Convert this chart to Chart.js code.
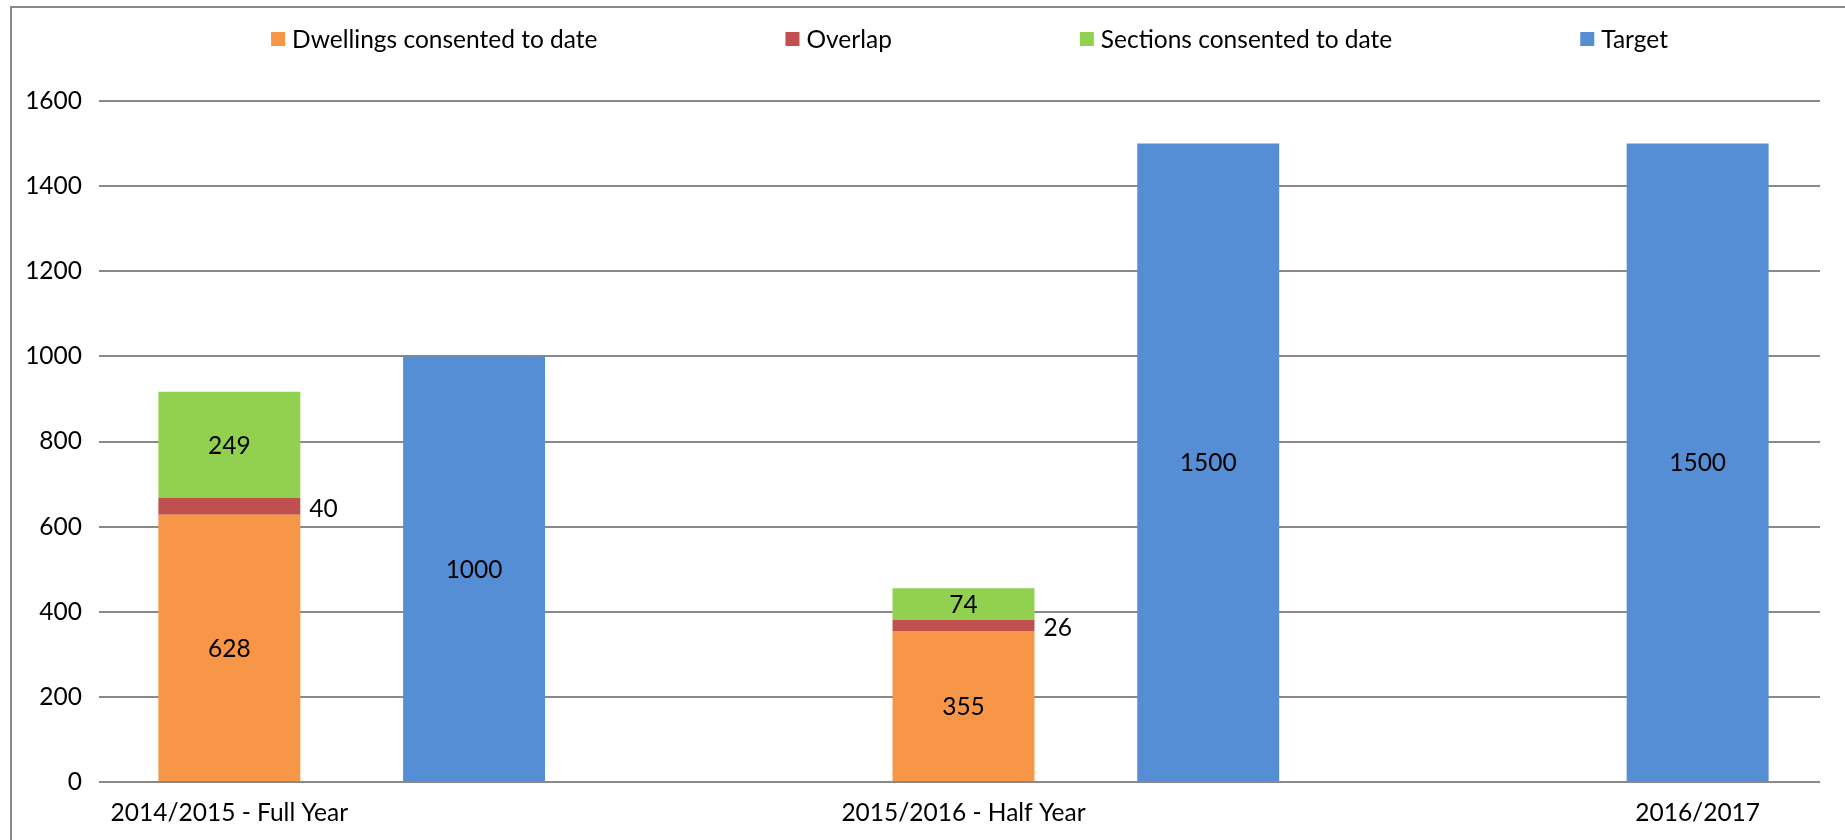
<!DOCTYPE html>
<html>
<head>
<meta charset="utf-8">
<title>Housing consents vs target</title>
<script src="https://cdn.jsdelivr.net/npm/chart.js@4"></script>
<style>
  html, body { margin: 0; padding: 0; background: #fff; }
  #wrap { width: 1845px; height: 840px; position: relative; }
</style>
</head>
<body>
<div id="wrap"><canvas id="chart"></canvas></div>
<script>
// periods (blank slots keep the target bar beside each consent stack)
const periods = ['2014/2015 - Full Year', '', '', '2015/2016 - Half Year', '', '', '2016/2017'];

const dwellings = [628, null, null, 355, null, null, null];
const overlap   = [40,  null, null, 26,  null, null, null];
const sections  = [249, null, null, 74,  null, null, null];
const target    = [null, 1000, null, null, 1500, null, 1500];

const yTicks = [0, 200, 400, 600, 800, 1000, 1200, 1400, 1600];

const FONT = 'Lato, "Noto Sans", sans-serif';
const FONT_SIZE = 24.5;
const GRID = '#898989';

// outer frame of the chart object
const framePlugin = {
  id: 'frame',
  beforeDraw(chart) {
    const ctx = chart.ctx;
    ctx.save();
    ctx.fillStyle = '#fff';
    ctx.fillRect(0, 0, chart.width, chart.height);
    ctx.strokeStyle = GRID;
    ctx.lineWidth = 2;
    ctx.strokeRect(11, 7, chart.width + 20, chart.height + 20);
    ctx.restore();
  }
};

// spread-out legend across the top
const legendPlugin = {
  id: 'wideLegend',
  afterDraw(chart) {
    const ctx = chart.ctx;
    const box = 14, gap = 7, spacing = 188;
    ctx.save();
    ctx.font = FONT_SIZE + 'px ' + FONT;
    const items = chart.data.datasets.map(ds => ({
      text: ds.label, color: ds.backgroundColor,
      w: box + gap + ctx.measureText(ds.label).width
    }));
    const total = items.reduce((s, it) => s + it.w, 0) + spacing * (items.length - 1);
    const area = chart.chartArea;
    let x = (area.left + area.right) / 2 + 6 - total / 2;
    const y = 39;
    ctx.textBaseline = 'middle';
    ctx.textAlign = 'left';
    items.forEach(it => {
      ctx.fillStyle = it.color;
      ctx.fillRect(x, y - box / 2, box, box);
      ctx.fillStyle = '#000';
      ctx.fillText(it.text, x + box + gap, y + 1);
      x += it.w + spacing;
    });
    ctx.restore();
  }
};

// value labels on the bars
const valueLabels = {
  id: 'valueLabels',
  afterDatasetsDraw(chart) {
    const ctx = chart.ctx;
    ctx.save();
    ctx.font = FONT_SIZE + 'px ' + FONT;
    ctx.fillStyle = '#000';
    ctx.textBaseline = 'middle';
    chart.data.datasets.forEach((ds, i) => {
      const meta = chart.getDatasetMeta(i);
      meta.data.forEach((bar, j) => {
        const v = ds.data[j];
        if (v === null || v === undefined) return;
        const p = bar.getProps(['x', 'y', 'base', 'width'], true);
        const cy = (p.y + p.base) / 2 + 1;
        if (ds.labelOutside) {
          ctx.textAlign = 'left';
          ctx.fillText(String(v), p.x + p.width / 2 + 9, cy + 2);
        } else {
          ctx.textAlign = 'center';
          ctx.fillText(String(v), p.x, cy);
        }
      });
    });
    ctx.restore();
  }
};

new Chart(document.getElementById('chart'), {
  type: 'bar',
  data: {
    labels: periods,
    datasets: [
      { label: 'Dwellings consented to date', data: dwellings, backgroundColor: '#F79646' },
      { label: 'Overlap', data: overlap, backgroundColor: '#C0504D', labelOutside: true },
      { label: 'Sections consented to date', data: sections, backgroundColor: '#92D050' },
      { label: 'Target', data: target, backgroundColor: '#558ED5' }
    ]
  },
  options: {
    responsive: true,
    maintainAspectRatio: false,
    animation: false,
    layout: { padding: { top: 101, right: 25, bottom: 10, left: 0 } },
    datasets: {
      bar: { categoryPercentage: 1, barPercentage: 0.58, borderWidth: 0 }
    },
    scales: {
      x: {
        stacked: true,
        afterFit(scale) { scale.height = 48; },
        grid: { display: false, drawTicks: false },
        border: { display: false },
        ticks: {
          autoSkip: false, maxRotation: 0, minRotation: 0, padding: 16,
          color: '#000', font: { family: FONT, size: FONT_SIZE }
        }
      },
      y: {
        stacked: true,
        min: 0, max: 1600,
        afterFit(scale) { scale.width = 107; },
        afterBuildTicks(scale) { scale.ticks = yTicks.map(v => ({ value: v })); },
        grid: { color: GRID, lineWidth: 2, tickLength: 8 },
        border: { display: false },
        ticks: {
          padding: 17, color: '#000', font: { family: FONT, size: FONT_SIZE },
          callback: v => String(v)
        }
      }
    },
    plugins: {
      legend: { display: false },
      tooltip: { enabled: false }
    }
  },
  plugins: [framePlugin, legendPlugin, valueLabels]
});
</script>
</body>
</html>
